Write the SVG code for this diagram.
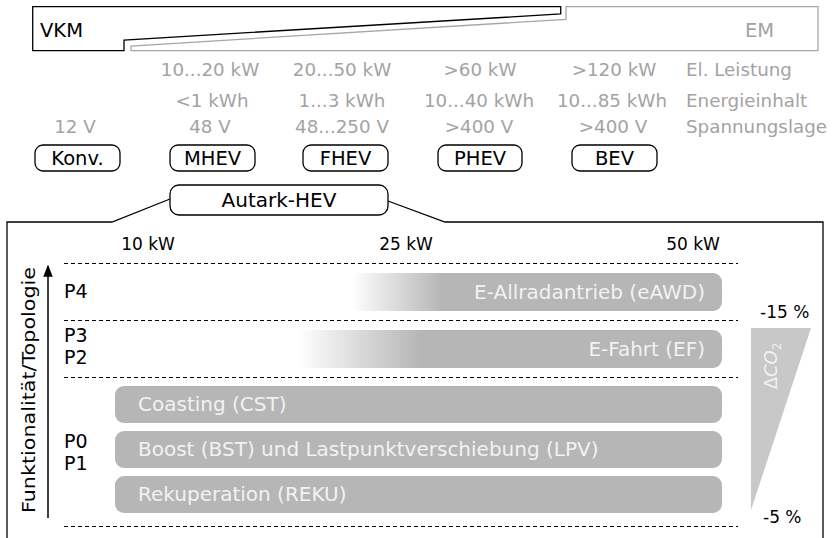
<svg xmlns="http://www.w3.org/2000/svg" width="837" height="538" viewBox="0 0 837 538">
<defs>
<style>
text{font-family:"DejaVu Sans","Liberation Serif",sans-serif;font-size:17px;fill:#000}
.g{fill:#a3a3a3;font-size:18.3px}
.m{text-anchor:middle}
.w{fill:#f2f2f2;font-size:20px}
.lb{font-size:19.5px}
.p{font-size:19px}
.box{fill:#fff;stroke:#000;stroke-width:1.3}
.bar{fill:#b6b6b6}
.dash{stroke:#000;stroke-width:1;stroke-dasharray:4 3;fill:none}
</style>
<linearGradient id="gA" gradientUnits="userSpaceOnUse" x1="351" y1="0" x2="442" y2="0">
<stop offset="0" stop-color="#fff"/><stop offset="1" stop-color="#b6b6b6"/>
</linearGradient>
<linearGradient id="gF" gradientUnits="userSpaceOnUse" x1="298" y1="0" x2="420" y2="0">
<stop offset="0" stop-color="#fff"/><stop offset="1" stop-color="#b6b6b6"/>
</linearGradient>
<marker id="arr" viewBox="0 0 10 10" refX="9" refY="5" markerWidth="8" markerHeight="8" orient="auto">
<path d="M0,1 L10,5 L0,9 z" fill="#000"/>
</marker>
</defs>
<rect width="837" height="538" fill="#fff"/>

<g id="top-bar">
<polygon points="32.7,6.7 560.7,6.7 560.7,14 124,40 124,50.7 32.7,50.7" fill="none" stroke="#000" stroke-width="1.3"/>
<polygon points="566,6.7 818,6.7 818,50.7 131,50.7 131,46 566,19.3" fill="none" stroke="#a6a6a6" stroke-width="1.3"/>
<text x="40" y="37" style="font-size:19.5px">VKM</text>
<text x="745" y="37" class="g" style="font-size:19.5px">EM</text>
</g>

<g id="specs">
<text class="g m" x="210" y="76">10...20 kW</text>
<text class="g m" x="342" y="76">20...50 kW</text>
<text class="g m" x="480" y="76">&gt;60 kW</text>
<text class="g m" x="614" y="76">&gt;120 kW</text>
<text class="g" x="686" y="76">El. Leistung</text>
<text class="g m" x="212" y="107">&lt;1 kWh</text>
<text class="g m" x="342" y="107">1...3 kWh</text>
<text class="g m" x="479" y="107">10...40 kWh</text>
<text class="g m" x="612" y="107">10...85 kWh</text>
<text class="g" x="686" y="107">Energieinhalt</text>
<text class="g m" x="75" y="133">12 V</text>
<text class="g m" x="210" y="133">48 V</text>
<text class="g m" x="342" y="133">48...250 V</text>
<text class="g m" x="479" y="133">&gt;400 V</text>
<text class="g m" x="613" y="133">&gt;400 V</text>
<text class="g" x="686" y="133">Spannungslage</text>
</g>

<g id="node-konv"><rect class="box" x="35" y="145" width="85" height="26" rx="8"/><text class="m lb" x="77.5" y="165">Konv.</text></g>
<g id="node-mhev"><rect class="box" x="170" y="145" width="85" height="26" rx="8"/><text class="m lb" x="212.5" y="165">MHEV</text></g>
<g id="node-fhev"><rect class="box" x="303" y="145" width="85" height="26" rx="8"/><text class="m lb" x="345.5" y="165">FHEV</text></g>
<g id="node-phev"><rect class="box" x="438" y="145" width="84" height="26" rx="8"/><text class="m lb" x="480" y="165">PHEV</text></g>
<g id="node-bev"><rect class="box" x="572" y="145" width="85" height="26" rx="8"/><text class="m lb" x="614.5" y="165">BEV</text></g>

<g id="connectors">
<polyline points="7,540 7,222 112,222 170,199" fill="none" stroke="#000" stroke-width="1.3"/>
<polyline points="388,201 445,222 823,222 823,540" fill="none" stroke="#000" stroke-width="1.3"/>
<line x1="48" y1="518" x2="48" y2="266" stroke="#000" stroke-width="1.5" marker-end="url(#arr)"/>
</g>

<g id="node-autark"><rect class="box" x="170" y="185" width="218" height="30" rx="9"/><text class="m" x="279" y="207" style="font-size:20px">Autark-HEV</text></g>

<g id="chart">
<text class="m" x="148" y="250">10 kW</text>
<text class="m" x="406" y="250">25 kW</text>
<text class="m" x="693" y="250">50 kW</text>
<line class="dash" x1="64" y1="263.5" x2="738" y2="263.5"/>
<line class="dash" x1="64" y1="320.5" x2="738" y2="320.5"/>
<line class="dash" x1="64" y1="377.5" x2="738" y2="377.5"/>
<line class="dash" x1="64" y1="526.5" x2="738" y2="526.5"/>
<text x="29" y="390" class="m" transform="rotate(-90 29 390)" dy="6" textLength="246" lengthAdjust="spacingAndGlyphs" style="font-size:18px">Funktionalität/Topologie</text>
<text class="p" x="64" y="298">P4</text>
<text class="p" x="64" y="342">P3</text>
<text class="p" x="64" y="364">P2</text>
<text class="p" x="64" y="448">P0</text>
<text class="p" x="64" y="470">P1</text>
</g>

<g id="node-eawd"><rect x="351" y="273" width="371" height="38" rx="9" fill="url(#gA)"/><text class="w" x="705" y="299" text-anchor="end">E-Allradantrieb (eAWD)</text></g>
<g id="node-ef"><rect x="298" y="330" width="424" height="38" rx="9" fill="url(#gF)"/><text class="w" x="705" y="356" text-anchor="end">E-Fahrt (EF)</text></g>
<g id="node-cst"><rect class="bar" x="115" y="386" width="607" height="37" rx="9"/><text class="w" x="138" y="411">Coasting (CST)</text></g>
<g id="node-bst"><rect class="bar" x="115" y="431" width="607" height="37" rx="9"/><text class="w" x="138" y="456">Boost (BST) und Lastpunktverschiebung (LPV)</text></g>
<g id="node-reku"><rect class="bar" x="115" y="476" width="607" height="37" rx="9"/><text class="w" x="138" y="501">Rekuperation (REKU)</text></g>

<g id="co2">
<polygon points="751,328 811,328 751,510" fill="#c8c8c8"/>
<text x="771" y="366" class="w m" transform="rotate(-90 771 366)" dy="6" style="font-size:18px">Δ<tspan font-style="italic">CO</tspan><tspan style="font-size:12px" dy="4">2</tspan></text>
<text x="760" y="318">-15 %</text>
<text x="763" y="523">-5 %</text>
</g>
</svg>
